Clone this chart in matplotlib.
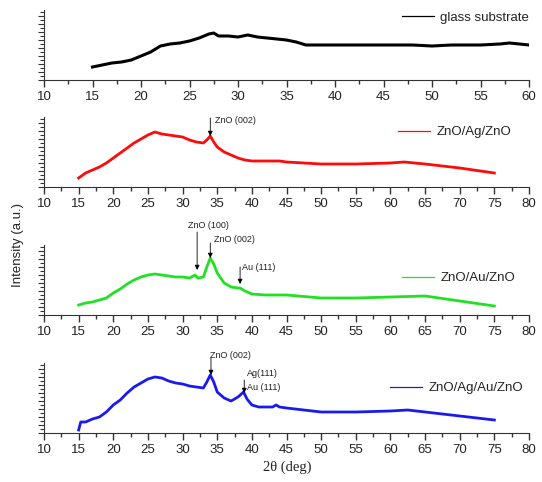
#!/usr/bin/env python3
"""XRD patterns of glass substrate and ZnO-based multilayers."""

import matplotlib

matplotlib.use("Agg")
import matplotlib.pyplot as plt
from matplotlib.lines import Line2D
from matplotlib.ticker import MultipleLocator

plt.rcParams["font.family"] = ["Liberation Sans", "DejaVu Sans"]

# glass substrate (2theta, intensity a.u.)
glass_x = [15, 16, 17, 18, 19, 20, 21, 22, 23, 24, 25, 26, 27, 27.5, 28, 29, 30,
           31, 32, 33, 34, 35, 36, 37, 38, 40, 42, 45, 48, 50, 52, 55, 57, 58, 60]
glass_y = [13, 15, 17, 18, 20, 24, 28, 34, 36, 37, 39, 42, 46, 47, 44, 44, 43,
           45, 43, 42, 41, 40, 38, 35, 35, 35, 35, 35, 35, 34, 35, 35, 36, 37, 35]

# ZnO/Ag/ZnO
zaz_x = [15, 16, 17, 18, 19, 20, 21, 22, 23, 24, 25, 26, 27, 28, 29, 30, 31, 32,
         33, 33.5, 34, 34.5, 35, 36, 37, 38, 39, 40, 42, 44, 45, 50, 55, 60, 62,
         65, 70, 75]
zaz_y = [9, 14, 17, 20, 24, 29, 34, 39, 44, 48, 52, 55, 53, 52, 51, 50, 47, 45,
         44, 47, 51, 45, 40, 35, 32, 29, 27, 26, 26, 26, 25, 23, 23, 24, 25,
         23, 19, 14]

# ZnO/Au/ZnO
zuz_x = [15, 16, 17, 18, 19, 20, 21, 22, 23, 24, 25, 26, 27, 28, 29, 30, 31,
         31.8, 32.2, 33, 33.5, 34, 34.5, 35, 36, 37, 38, 38.3, 39, 40, 42, 44,
         45, 50, 55, 60, 65, 70, 75]
zuz_y = [10, 12, 13, 15, 17, 22, 26, 31, 35, 38, 40, 41, 40, 39, 38, 38, 37,
         40, 37, 38, 48, 57, 51, 42, 32, 28, 27, 27, 24, 21, 20, 20,
         20, 17, 17, 18, 19, 14, 9]

# ZnO/Ag/Au/ZnO
zaaz_x = [15, 15.3, 16, 17, 18, 19, 20, 21, 22, 23, 24, 25, 26, 27, 28, 29, 30,
          31, 32, 33, 33.5, 34, 34.5, 35, 36, 37, 38, 38.8, 39.3, 40, 41, 42,
          43, 43.5, 44, 45, 50, 55, 60, 62.5, 65, 70, 75]
zaaz_y = [3, 11, 11, 14, 16, 21, 28, 33, 40, 46, 50, 54, 56, 55, 52, 50, 49,
          47, 46, 45, 51, 58, 51, 41, 35, 32, 36, 41, 34, 28, 26, 26,
          26, 28, 26, 25, 21, 21, 22, 23, 21, 17, 13]

SERIES = [
    (glass_x, glass_y, "black", "glass substrate", 60, 2.2),
    (zaz_x, zaz_y, "#ff0a0a", "ZnO/Ag/ZnO", 80, 2.0),
    (zuz_x, zuz_y, "#22e022", "ZnO/Au/ZnO", 80, 2.0),
    (zaaz_x, zaaz_y, "#1a1af0", "ZnO/Ag/Au/ZnO", 80, 2.0),
]

W, H = 542, 482
# (top, bottom) of each panel in pixels
PANEL_PX = [(10, 80), (117, 187), (245, 315), (363, 433)]
LEGEND_PX = [(402, 18), (398, 132), (402, 278), (390, 388)]

# (panel, peak x, arrow tail height, arrow tip height)
ARROWS = [
    (1, 34.0, 69, 51),
    (2, 32.1, 83, 45),
    (2, 34.0, 72, 57),
    (2, 38.3, 48, 31),
    (3, 34.1, 75, 58),
    (3, 38.9, 53, 40),
]
# (panel, x, y, text)
LABELS = [
    (1, 34.7, 66, "ZnO (002)"),
    (2, 30.8, 89, "ZnO (100)"),
    (2, 34.5, 76, "ZnO (002)"),
    (2, 38.6, 47, "Au (111)"),
    (3, 34.0, 78, "ZnO (002)"),
    (3, 39.3, 59, "Ag(111)"),
    (3, 39.3, 46, "Au (111)"),
]


def main() -> None:
    fig = plt.figure(figsize=(W / 100, H / 100), dpi=100)
    axes = []
    for (xs, ys, color, label, xmax, lw), (top, bottom), (lx, ly) in zip(SERIES, PANEL_PX, LEGEND_PX):
        ax = fig.add_axes([44 / W, 1 - bottom / H, 485 / W, (bottom - top) / H])
        ax.plot(xs, ys, color=color, linewidth=lw, solid_joinstyle="round")
        ax.set_xlim(10, xmax)
        ax.set_ylim(0, 70)
        ax.spines["top"].set_visible(False)
        ax.spines["right"].set_visible(False)
        ax.spines["left"].set_color("#333333")
        ax.spines["bottom"].set_color("#333333")
        ax.xaxis.set_major_locator(MultipleLocator(5))
        ax.xaxis.set_minor_locator(MultipleLocator(2.5))
        ax.yaxis.set_major_locator(MultipleLocator(8))
        ax.yaxis.set_minor_locator(MultipleLocator(4))
        ax.set_yticklabels([])
        ax.tick_params(axis="x", which="major", length=5, width=1, labelsize=9.5,
                       colors="#333333", labelcolor="#222222", pad=3)
        ax.tick_params(axis="x", which="minor", length=3, width=1, colors="#333333")
        ax.tick_params(axis="y", which="major", length=4, width=0.8, colors="#333333")
        ax.tick_params(axis="y", which="minor", length=3, width=0.8, colors="#333333")
        handle = Line2D([], [], color=color, linewidth=0.9)
        ax.legend([handle], [label], loc="center left", frameon=False,
                  bbox_to_anchor=(lx / W, 1 - ly / H), bbox_transform=fig.transFigure,
                  borderaxespad=0, borderpad=0, handlelength=2.4, handletextpad=0.5,
                  fontsize=9.5, labelcolor="#222222")
        axes.append(ax)

    for panel, x, tail, tip in ARROWS:
        axes[panel].annotate("", xy=(x, tip), xytext=(x, tail), annotation_clip=False,
                             arrowprops=dict(arrowstyle="-|>", color="black", lw=0.6,
                                             mutation_scale=7, shrinkA=0, shrinkB=0))
    for panel, x, y, text in LABELS:
        axes[panel].text(x, y, text, fontsize=6.5, color="#222222", ha="left",
                         va="center", clip_on=False)

    fig.text(18 / W, 1 - 245 / H, "Intensity (a.u.)", rotation=90, fontsize=9.5,
             ha="center", va="center", color="#222222")
    fig.text(287 / W, 1 - 467 / H, "2θ (deg)", fontsize=10.5, ha="center",
             va="center", color="#222222", family=["Liberation Serif", "DejaVu Serif"])

    fig.savefig("out.png", dpi=100)
    plt.close(fig)


if __name__ == "__main__":
    main()
